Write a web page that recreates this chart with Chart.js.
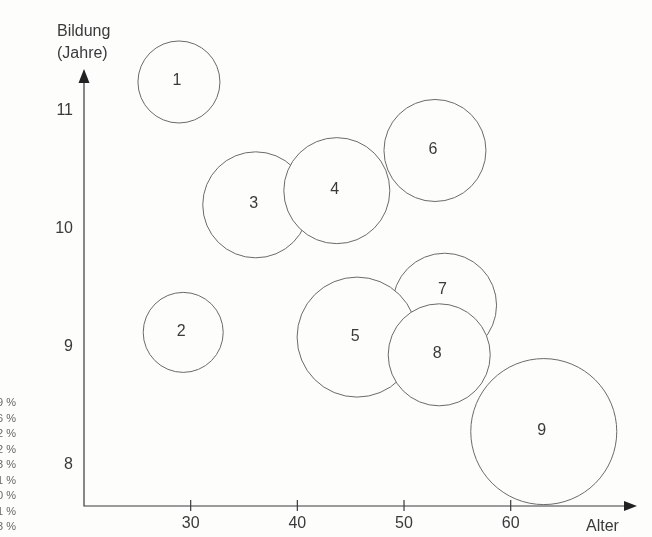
<!DOCTYPE html>
<html>
<head>
<meta charset="utf-8">
<script src="https://cdn.jsdelivr.net/npm/chart.js@4/dist/chart.umd.min.js"></script>
<style>
  html, body { margin: 0; padding: 0; background: #fdfdfc; }
  #wrap { position: relative; width: 652px; height: 537px; overflow: hidden; }
  #chartBox { position: absolute; left: 0; top: 0; width: 652px; height: 537px; }
  .ytitle { position: absolute; left: 57px; top: 20px; font: 16px "Liberation Sans", Arial, sans-serif; color: #3a3a3a; line-height: 22px; }
  .xtitle { position: absolute; left: 586px; top: 517px; font: 16px "Liberation Sans", Arial, sans-serif; color: #3a3a3a; }
  .pct { position: absolute; right: 636px; font: 11px "Liberation Sans", Arial, sans-serif; color: #666; white-space: nowrap; }
</style>
</head>
<body>
<div id="wrap">
  <div id="chartBox"><canvas id="myChart"></canvas></div>
  <div class="ytitle">Bildung<br>(Jahre)</div>
  <div class="xtitle">Alter</div>
  <div id="pcts"></div>
</div>
<script>
// bubbles, listed in drawing order (later ones lie on top)
const labels = ["1", "2", "3", "6", "4", "7", "5", "8", "9"];
const ages = [28.9, 29.3, 36.1, 52.9, 43.7, 53.8, 45.6, 53.3, 63.1];
const years = [11.24, 9.12, 10.2, 10.66, 10.32, 9.35, 9.08, 8.93, 8.28];
const sizes = [41, 40, 53, 51, 53, 52, 60, 51, 73];

const xTicks = [30, 40, 50, 60];
const yTicks = [8, 9, 10, 11];

// cut-off column at the left edge of the scan
const percents = ["9 %", "6 %", "2 %", "2 %", "3 %", "1 %", "0 %", "1 %", "3 %"];

const fontFamily = '"Liberation Sans", Arial, sans-serif';
const inkColor = "#3a3a3a";
// bubble 7 is half hidden, its number sits higher up
const labelLift = { "7": 15 };

const pctBox = document.getElementById("pcts");
percents.forEach((p, i) => {
  const d = document.createElement("div");
  d.className = "pct";
  d.style.top = (396 + i * 15.5) + "px";
  d.textContent = p;
  pctBox.appendChild(d);
});

const axisArrows = {
  id: "axisArrows",
  afterDatasetsDraw(chart) {
    const ctx = chart.ctx;
    const area = chart.chartArea;
    const xScale = chart.scales.x;
    ctx.save();
    ctx.strokeStyle = inkColor;
    ctx.fillStyle = "#222";
    ctx.lineWidth = 1.2;

    ctx.beginPath();
    ctx.moveTo(area.left, area.top + 8);
    ctx.lineTo(area.left, area.bottom);
    ctx.lineTo(area.right - 8, area.bottom);
    ctx.stroke();

    // tick marks across the x axis
    xTicks.forEach((v) => {
      const px = xScale.getPixelForValue(v);
      ctx.beginPath();
      ctx.moveTo(px, area.bottom - 6);
      ctx.lineTo(px, area.bottom + 5);
      ctx.stroke();
    });

    // arrow heads
    ctx.beginPath();
    ctx.moveTo(area.left, area.top);
    ctx.lineTo(area.left - 5.5, area.top + 14);
    ctx.lineTo(area.left + 5.5, area.top + 14);
    ctx.closePath();
    ctx.fill();

    ctx.beginPath();
    ctx.moveTo(area.right, area.bottom);
    ctx.lineTo(area.right - 13, area.bottom - 5);
    ctx.lineTo(area.right - 13, area.bottom + 5);
    ctx.closePath();
    ctx.fill();

    // numbers inside the bubbles
    const meta = chart.getDatasetMeta(0);
    ctx.font = "16px " + fontFamily;
    ctx.fillStyle = inkColor;
    ctx.textAlign = "center";
    ctx.textBaseline = "middle";
    meta.data.forEach((pt, i) => {
      const lift = labelLift[labels[i]] || 0;
      ctx.fillText(labels[i], pt.x - 2, pt.y - 1 - lift);
    });
    ctx.restore();
  },
};

const ctx = document.getElementById("myChart").getContext("2d");
const myChart = new Chart(ctx, {
  type: "bubble",
  data: {
    datasets: [
      {
        data: ages.map((a, i) => ({ x: a, y: years[i], r: sizes[i] })),
        backgroundColor: "#fdfdfc",
        borderColor: "#6a6a6a",
        borderWidth: 1,
        clip: false,
      },
    ],
  },
  options: {
    responsive: true,
    maintainAspectRatio: false,
    animation: false,
    events: [],
    layout: { autoPadding: false, padding: { top: 69, right: 15, left: 0, bottom: 0 } },
    plugins: { legend: { display: false }, tooltip: { enabled: false } },
    scales: {
      x: {
        type: "linear",
        min: 20,
        max: 71.84,
        grid: { display: false, drawTicks: false },
        border: { display: false },
        afterBuildTicks: (s) => { s.ticks = xTicks.map((v) => ({ value: v })); },
        afterFit: (s) => { s.height = 31; },
        ticks: { padding: 8, color: inkColor, font: { size: 16, family: fontFamily } },
      },
      y: {
        type: "linear",
        min: 7.65,
        max: 11.35,
        grid: { display: false, drawTicks: false },
        border: { display: false },
        afterBuildTicks: (s) => { s.ticks = yTicks.map((v) => ({ value: v })); },
        afterFit: (s) => { s.width = 84; },
        ticks: { padding: 11, color: inkColor, font: { size: 16, family: fontFamily } },
      },
    },
  },
  plugins: [axisArrows],
});
</script>
</body>
</html>
